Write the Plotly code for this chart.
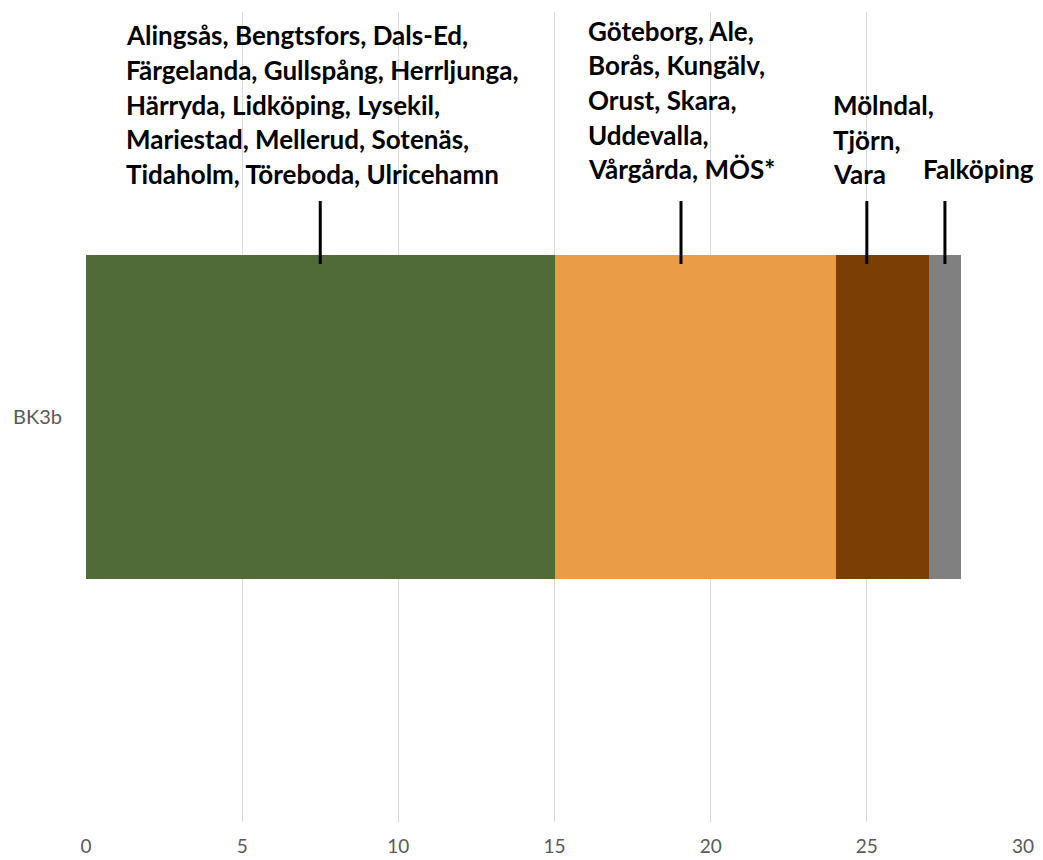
import plotly.graph_objects as go

# ---- data ----
category = ["BK3b"]
segment_values = [15, 9, 3, 1]
segment_colors = ["#506B38", "#EA9D46", "#7B3F05", "#808080"]
segment_names = ["Grupp 1", "Grupp 2", "Grupp 3", "Grupp 4"]

label_groups = [
    ["Alingsås, Bengtsfors, Dals-Ed,",
     "Färgelanda, Gullspång, Herrljunga,",
     "Härryda, Lidköping, Lysekil,",
     "Mariestad, Mellerud, Sotenäs,",
     "Tidaholm, Töreboda, Ulricehamn"],
    ["Göteborg, Ale,",
     "Borås, Kungälv,",
     "Orust, Skara,",
     "Uddevalla,",
     "Vårgårda, MÖS*"],
    ["Mölndal,",
     "Tjörn,",
     "Vara"],
    ["Falköping"],
]
# leader line x positions (data units) and text left edges (data units)
leader_x = [7.5, 19.05, 25.0, 27.5]
text_left_x = [1.23, 16.0, 23.85, 26.74]
# baseline (page pixels from top) of the last line of each group
last_baseline_px = [184.0, 179.5, 184.5, 179.5]

xticks = [0, 5, 10, 15, 20, 25, 30]

# ---- layout constants (page body has an 8px default margin) ----
W, H = 1035, 852
M_L, M_R, M_T, M_B = 78, 20, 4, 38
PLOT_TOP, PLOT_BOT = 12, 822          # page pixel coords of plot area
PLOT_H = PLOT_BOT - PLOT_TOP
LINE_SP = 34.7
FONT_SIZE = 26


def paper_y(px):
    return (PLOT_BOT - px) / PLOT_H


fig = go.Figure()
for v, c, n in zip(segment_values, segment_colors, segment_names):
    fig.add_trace(go.Bar(
        y=category, x=[v], orientation="h", name=n,
        marker=dict(color=c, line=dict(width=0)),
        hoverinfo="x+name",
    ))

annotations = []
for lines, lx, base in zip(label_groups, text_left_x, last_baseline_px):
    n = len(lines)
    for i, t in enumerate(lines):
        bl = base - LINE_SP * (n - 1 - i)
        annotations.append(dict(
            x=lx, xref="x", xanchor="left",
            y=paper_y(bl - 0.387 * FONT_SIZE), yref="paper", yanchor="middle",
            text=t, showarrow=False, align="left",
            font=dict(family="Lato", size=FONT_SIZE, color="#000000", weight="bold"),
        ))

shapes = []
for x in leader_x:
    shapes.append(dict(
        type="line", xref="x", yref="paper",
        x0=x, x1=x, y0=paper_y(264), y1=paper_y(201),
        line=dict(color="#000000", width=3), layer="above",
    ))

fig.update_layout(
    width=W, height=H,
    margin=dict(l=M_L, r=M_R, t=M_T, b=M_B, pad=0),
    barmode="stack", bargap=0.6,
    showlegend=False,
    plot_bgcolor="white", paper_bgcolor="white",
    annotations=annotations, shapes=shapes,
    xaxis=dict(
        range=[0, 30], tickvals=xticks, ticktext=[str(t) for t in xticks],
        showgrid=True, gridcolor="#D9D9D9", gridwidth=1,
        zeroline=False, showline=False, automargin=False,
        ticks="outside", ticklen=7, tickcolor="rgba(0,0,0,0)",
        tickfont=dict(family="Lato", size=19, color="#595959"),
        fixedrange=True,
    ),
    yaxis=dict(
        showgrid=False, zeroline=False, showline=False, automargin=False,
        ticks="outside", ticklen=19, tickcolor="rgba(0,0,0,0)",
        tickfont=dict(family="Lato", size=20, color="#595959"),
        fixedrange=True,
    ),
)

fig.write_html("out.html")
